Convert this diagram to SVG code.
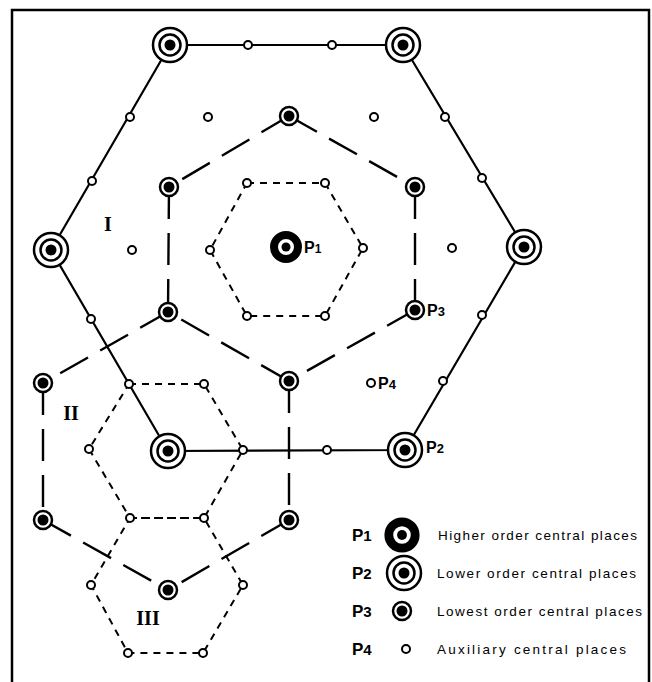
<svg xmlns="http://www.w3.org/2000/svg" width="652" height="682" viewBox="0 0 652 682">
<style>
.solid{fill:none;stroke:#000;stroke-width:2.2;stroke-linejoin:round}
.long{fill:none;stroke:#000;stroke-width:2.4;stroke-dasharray:32 14}
.short{fill:none;stroke:#000;stroke-width:2;stroke-dasharray:7 6}
.lbl{font-family:"Liberation Sans",Arial,sans-serif;font-weight:bold;fill:#000}
.roman{font-family:"Liberation Serif","Times New Roman",serif;font-weight:bold;fill:#000;text-anchor:middle}
.leg{font-family:"Liberation Sans",Arial,sans-serif;font-size:13.5px;fill:#000}
</style>
<defs>
<g id="sym-p1"><circle r="12" fill="#fff" stroke="#000" stroke-width="8"/><circle r="4.5" fill="#000"/></g>
<g id="sym-p2"><circle r="17" fill="#fff" stroke="#000" stroke-width="2.5"/><circle r="10.5" fill="#fff" stroke="#000" stroke-width="2.5"/><circle r="5.5" fill="#000"/></g>
<g id="sym-p3"><circle r="9" fill="#fff" stroke="#000" stroke-width="2.5"/><circle r="5.5" fill="#000"/></g>
<g id="sym-p4"><circle r="4" fill="#fff" stroke="#000" stroke-width="2"/></g>
</defs>
<rect x="12" y="10" width="637" height="700" fill="#fff" stroke="#000" stroke-width="2.5"/>
<g id="connectors">
<polygon class="solid" points="170,45 403,45 524,247 405,450 168,451 51,250"/>
<line class="long" x1="289" y1="116" x2="169" y2="187"/>
<line class="long" x1="289" y1="116" x2="415" y2="187"/>
<line class="long" x1="415" y1="187" x2="415" y2="310"/>
<line class="long" x1="415" y1="310" x2="289" y2="381"/>
<line class="long" x1="289" y1="381" x2="168" y2="312"/>
<line class="long" x1="169" y1="187" x2="168" y2="312"/>
<line class="long" x1="168" y1="312" x2="43" y2="383"/>
<line class="long" x1="43" y1="383" x2="43" y2="520"/>
<line class="long" x1="43" y1="520" x2="168" y2="590"/>
<line class="long" x1="289" y1="520" x2="168" y2="590"/>
<line class="long" x1="289" y1="381" x2="289" y2="520"/>
<polygon class="short" points="247,183 325,183 363,248 325,316 247,316 210,250"/>
<polygon class="short" points="129,384 204,384 243,450 204,518 130,518 89,449"/>
<polygon class="short" points="130,518 204,518 243,585 203,653 128,653 91,585"/>
</g>
<g id="n-p1"><use href="#sym-p1" x="286" y="247"/></g>
<g id="n-p2-tl"><use href="#sym-p2" x="170" y="45"/></g>
<g id="n-p2-tr"><use href="#sym-p2" x="403" y="45"/></g>
<g id="n-p2-l"><use href="#sym-p2" x="51" y="250"/></g>
<g id="n-p2-r"><use href="#sym-p2" x="524" y="247"/></g>
<g id="n-p2-bl"><use href="#sym-p2" x="168" y="451"/></g>
<g id="n-p2-br"><use href="#sym-p2" x="405" y="450"/></g>
<g id="n-p3-t"><use href="#sym-p3" x="289" y="116"/></g>
<g id="n-p3-ul"><use href="#sym-p3" x="169" y="187"/></g>
<g id="n-p3-ur"><use href="#sym-p3" x="415" y="187"/></g>
<g id="n-p3-ll"><use href="#sym-p3" x="168" y="312"/></g>
<g id="n-p3-lr"><use href="#sym-p3" x="415" y="310"/></g>
<g id="n-p3-b"><use href="#sym-p3" x="289" y="381"/></g>
<g id="n-p3-w1"><use href="#sym-p3" x="43" y="383"/></g>
<g id="n-p3-w2"><use href="#sym-p3" x="43" y="520"/></g>
<g id="n-p3-s"><use href="#sym-p3" x="168" y="590"/></g>
<g id="n-p3-se"><use href="#sym-p3" x="289" y="520"/></g>
<g id="n-a1"><use href="#sym-p4" x="248" y="45"/></g>
<g id="n-a2"><use href="#sym-p4" x="332" y="45"/></g>
<g id="n-a3"><use href="#sym-p4" x="130" y="117"/></g>
<g id="n-a4"><use href="#sym-p4" x="92" y="181"/></g>
<g id="n-a5"><use href="#sym-p4" x="445" y="117"/></g>
<g id="n-a6"><use href="#sym-p4" x="482" y="178"/></g>
<g id="n-a7"><use href="#sym-p4" x="91" y="319"/></g>
<g id="n-a8"><use href="#sym-p4" x="129" y="384"/></g>
<g id="n-a9"><use href="#sym-p4" x="482" y="315"/></g>
<g id="n-a10"><use href="#sym-p4" x="443" y="381"/></g>
<g id="n-a11"><use href="#sym-p4" x="243" y="450"/></g>
<g id="n-a12"><use href="#sym-p4" x="327" y="450"/></g>
<g id="n-a13"><use href="#sym-p4" x="208" y="117"/></g>
<g id="n-a14"><use href="#sym-p4" x="374" y="117"/></g>
<g id="n-a15"><use href="#sym-p4" x="132" y="250"/></g>
<g id="n-a16"><use href="#sym-p4" x="452" y="248"/></g>
<g id="n-p4"><use href="#sym-p4" x="371" y="383"/></g>
<g id="n-c1"><use href="#sym-p4" x="247" y="183"/></g>
<g id="n-c2"><use href="#sym-p4" x="325" y="183"/></g>
<g id="n-c3"><use href="#sym-p4" x="363" y="248"/></g>
<g id="n-c4"><use href="#sym-p4" x="325" y="316"/></g>
<g id="n-c5"><use href="#sym-p4" x="247" y="316"/></g>
<g id="n-c6"><use href="#sym-p4" x="210" y="250"/></g>
<g id="n-d1"><use href="#sym-p4" x="204" y="384"/></g>
<g id="n-d2"><use href="#sym-p4" x="204" y="518"/></g>
<g id="n-d3"><use href="#sym-p4" x="130" y="518"/></g>
<g id="n-d4"><use href="#sym-p4" x="89" y="449"/></g>
<g id="n-e1"><use href="#sym-p4" x="243" y="585"/></g>
<g id="n-e2"><use href="#sym-p4" x="203" y="653"/></g>
<g id="n-e3"><use href="#sym-p4" x="128" y="653"/></g>
<g id="n-e4"><use href="#sym-p4" x="91" y="585"/></g>
<g id="labels">
<text class="lbl" x="304" y="253" font-size="16">P<tspan font-size="12">1</tspan></text>
<text class="lbl" x="427" y="316" font-size="16">P<tspan font-size="13">3</tspan></text>
<text class="lbl" x="378" y="389" font-size="16">P<tspan font-size="13">4</tspan></text>
<text class="lbl" x="426" y="453" font-size="16">P<tspan font-size="13">2</tspan></text>
<text class="roman" x="108" y="231" font-size="20">I</text>
<text class="roman" x="71" y="420" font-size="20">II</text>
<text class="roman" x="148" y="625" font-size="20">III</text>
</g>
<g id="legend">
<text class="lbl" x="352" y="541" font-size="17">P<tspan font-size="15">1</tspan></text>
<use href="#sym-p1" x="402" y="535" transform="translate(-40.2 -53.5) scale(1.1)"/>
<text class="leg" x="438" y="540" textLength="199" lengthAdjust="spacing">Higher order central places</text>
<text class="lbl" x="352" y="579" font-size="17">P<tspan font-size="15">2</tspan></text>
<use href="#sym-p2" x="404" y="573"/>
<text class="leg" x="437" y="578" textLength="199" lengthAdjust="spacing">Lower order central places</text>
<text class="lbl" x="352" y="617" font-size="17">P<tspan font-size="15">3</tspan></text>
<use href="#sym-p3" x="402" y="611"/>
<text class="leg" x="437" y="616" textLength="205" lengthAdjust="spacing">Lowest order central places</text>
<text class="lbl" x="352" y="655" font-size="17">P<tspan font-size="15">4</tspan></text>
<use href="#sym-p4" x="406" y="649"/>
<text class="leg" x="437" y="654" textLength="189" lengthAdjust="spacing">Auxiliary central places</text>
</g>
</svg>
